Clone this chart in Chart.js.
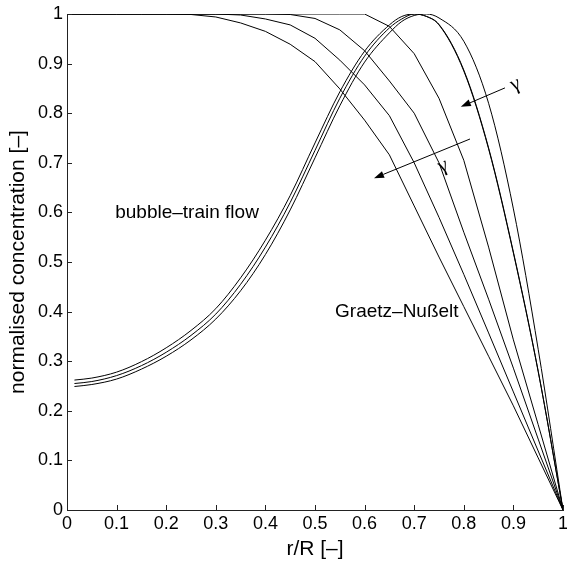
<!DOCTYPE html>
<html><head><meta charset="utf-8">
<script src="https://cdn.jsdelivr.net/npm/chart.js@4"></script>
<style>html,body{margin:0;padding:0;background:#fff}</style>
</head><body>
<canvas id="c" width="567" height="564"></canvas>
<script>
// ---- data ----
const xTicks = [0,0.1,0.2,0.3,0.4,0.5,0.6,0.7,0.8,0.9,1];
const yTicks = [0,0.1,0.2,0.3,0.4,0.5,0.6,0.7,0.8,0.9,1];

// Graetz–Nußelt profiles (r/R grid)
const graetzR = [0,0.05,0.1,0.15,0.2,0.25,0.3,0.35,0.4,0.45,0.5,0.55,0.6,0.65,0.7,0.75,0.8,0.85,0.9,0.95,1];
const graetzA = [1,1,1,1,1,0.999,0.994,0.982,0.965,0.939,0.904,0.849,0.786,0.716,0.613,0.51,0.41,0.31,0.21,0.105,0];
const graetzB = [1,1,1,1,1,1,1,0.998,0.990,0.978,0.951,0.907,0.857,0.795,0.70,0.59,0.475,0.357,0.238,0.119,0];
const graetzC = [1,1,1,1,1,1,1,1,1,0.999,0.991,0.968,0.926,0.865,0.80,0.70,0.56,0.425,0.286,0.143,0];
const graetzD = [1,1,1,1,1,1,1,1,1,1,1,1,1,0.975,0.92,0.83,0.705,0.53,0.343,0.172,0];

// bubble-train flow profiles
const bubbleR = [0.015,0.05,0.1,0.15,0.2,0.25,0.3,0.35,0.4,0.45,0.5,0.55,0.6,0.65,0.675,0.7,0.725,0.75,0.8,0.85,0.9,0.95,1];
const bubbleL = [0.262,0.266,0.278,0.299,0.327,0.362,0.406,0.468,0.544,0.634,0.74,0.843,0.925,0.978,0.995,1.0,0.995,0.978,0.885,0.728,0.518,0.279,0];
const bubbleM = [0.255,0.259,0.271,0.291,0.318,0.352,0.395,0.455,0.53,0.62,0.725,0.83,0.915,0.972,0.99,1.0,0.995,0.979,0.887,0.73,0.52,0.28,0];
const bubbleRt = [0.249,0.253,0.264,0.284,0.31,0.343,0.385,0.442,0.515,0.605,0.71,0.815,0.903,0.962,0.985,0.997,1.0,0.992,0.945,0.82,0.607,0.324,0];

// annotations (data coordinates)
const textLabels = [
  {text:'bubble\u2013train flow', x:0.242, y:0.599},
  {text:'Graetz\u2013Nu\u00dfelt', x:0.665, y:0.399}
];
const arrows = [
  {x0:0.883, y0:0.851, x1:0.794, y1:0.813, label:{x:0.904, y:0.858}},
  {x0:0.8125, y0:0.748, x1:0.619, y1:0.669, label:{x:0.758, y:0.694}}
];

const FONT = '"Liberation Sans", Arial, Helvetica, sans-serif';
const pts = (xs, ys) => xs.map((v,i)=>({x:v, y:ys[i]}));
const ds = (xs, ys, smooth) => ({data:pts(xs,ys), borderColor:'#000', borderWidth:1, pointRadius:0,
  tension: smooth ? 0.4 : 0, cubicInterpolationMode: smooth ? 'monotone' : 'default', fill:false});

const deco = {
  id:'deco',
  afterDatasetsDraw(chart){
    const {ctx, scales:{x, y}} = chart;
    ctx.save();
    ctx.strokeStyle = '#222'; ctx.lineWidth = 1;
    xTicks.forEach(v=>{
      const px = Math.round(x.getPixelForValue(v)) + 0.5;
      ctx.beginPath(); ctx.moveTo(px, y.bottom); ctx.lineTo(px, y.bottom - 5); ctx.stroke();
    });
    yTicks.forEach(v=>{
      const py = Math.round(y.getPixelForValue(v)) + 0.5;
      ctx.beginPath(); ctx.moveTo(x.left, py); ctx.lineTo(x.left + 5, py); ctx.stroke();
    });
    // arrows
    ctx.strokeStyle = '#000'; ctx.fillStyle = '#000';
    arrows.forEach(a=>{
      const X0 = x.getPixelForValue(a.x0), Y0 = y.getPixelForValue(a.y0);
      const X1 = x.getPixelForValue(a.x1), Y1 = y.getPixelForValue(a.y1);
      const ang = Math.atan2(Y1-Y0, X1-X0);
      const hl = 10, hw = 3.5;
      const bx = X1 - hl*Math.cos(ang), by = Y1 - hl*Math.sin(ang);
      ctx.beginPath(); ctx.moveTo(X0, Y0); ctx.lineTo(bx, by); ctx.stroke();
      ctx.beginPath();
      ctx.moveTo(X1, Y1);
      ctx.lineTo(bx + hw*Math.sin(ang), by - hw*Math.cos(ang));
      ctx.lineTo(bx - hw*Math.sin(ang), by + hw*Math.cos(ang));
      ctx.closePath(); ctx.fill();
      // gamma label rotated with arrow
      const lx = x.getPixelForValue(a.label.x), ly = y.getPixelForValue(a.label.y);
      ctx.save();
      ctx.translate(lx, ly);
      ctx.rotate(ang + Math.PI);
      ctx.font = '21px "Liberation Serif", "DejaVu Serif", serif';
      ctx.textAlign = 'center'; ctx.textBaseline = 'middle';
      ctx.fillText('\u03b3', 0, 0);
      ctx.restore();
    });
    // text labels
    ctx.font = '19px ' + FONT;
    ctx.textAlign = 'center'; ctx.textBaseline = 'middle';
    textLabels.forEach(t=>{
      ctx.fillText(t.text, x.getPixelForValue(t.x), y.getPixelForValue(t.y));
    });
    ctx.restore();
  }
};

const fmt = v => String(+Number(v).toFixed(1));

new Chart(document.getElementById('c'), {
  type:'line',
  data:{datasets:[
    ds(graetzR, graetzA), ds(graetzR, graetzB), ds(graetzR, graetzC), ds(graetzR, graetzD),
    ds(bubbleR, bubbleL, true), ds(bubbleR, bubbleM, true), ds(bubbleR, bubbleRt, true)
  ]},
  options:{
    responsive:false, animation:false,
    layout:{padding:{top:14, right:4, left:0, bottom:0}},
    plugins:{legend:{display:false}, tooltip:{enabled:false}},
    scales:{
      x:{type:'linear', min:0, max:1,
        afterBuildTicks: s => { s.ticks = xTicks.map(v=>({value:v})); },
        afterFit: s => { s.height = 54; s.paddingLeft = 0; s.paddingRight = 0; },
        grid:{display:false, drawTicks:false},
        border:{display:true, color:'#222', width:1},
        ticks:{font:{family:FONT, size:18}, color:'#000', padding:3, maxRotation:0, autoSkip:false, callback: fmt},
        title:{display:true, text:'r/R [\u2013]', font:{family:FONT, size:21}, color:'#000', padding:{top:0, bottom:2}}
      },
      y:{type:'linear', min:0, max:1,
        afterBuildTicks: s => { s.ticks = yTicks.map(v=>({value:v})); },
        afterFit: s => { s.width = 67; s.paddingTop = 0; s.paddingBottom = 0; },
        grid:{display:false, drawTicks:false},
        border:{display:true, color:'#222', width:1},
        ticks:{font:{family:FONT, size:18}, color:'#000', padding:4, autoSkip:false, callback: fmt},
        title:{display:true, text:'normalised concentration [\u2013]', font:{family:FONT, size:21}, color:'#000', padding:{top:6, bottom:0}}
      }
    }
  },
  plugins:[deco]
});
</script>
</body></html>
